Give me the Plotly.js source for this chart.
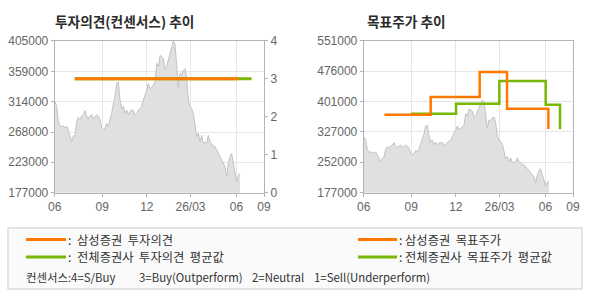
<!DOCTYPE html>
<html>
<head>
<meta charset="utf-8">
<script src="https://cdn.plot.ly/plotly-3.0.1.min.js"></script>
<style>html,body{margin:0;padding:0;background:#fff;}#chart{width:590px;height:300px;}</style>
</head>
<body>
<div id="chart"></div>
<script>
// ---- data ----
// x unit: sample index (roughly every ~2 trading days), axis labels are months
const tickPos = [0, 28.5, 55.3, 81.5, 109.1, 125.6];
const tickLabels = ['06', '09', '12', '26/03', '06', '09'];

// daily close price (sampled), starts at x = 0.2, step 1
const price = [
  314000, 306000, 283000, 278000, 276000, 277000, 274000, 277000, 270000, 262000,
  254000, 262000, 264000, 284000, 290000, 287000, 292000, 294000, 300000, 292000,
  288000, 292000, 294000, 288000, 292000, 294000, 292000, 286000, 274000, 271000,
  274000, 281000, 276000, 286000, 296000, 311000, 321000, 341000, 343000, 316000,
  303000, 306000, 296000, 301000, 294000, 299000, 301000, 301000, 294000, 294000,
  301000, 303000, 306000, 316000, 323000, 331000, 341000, 333000, 335000, 338000,
  343000, 371000, 366000, 383000, 381000, 378000, 361000, 366000, 376000, 386000,
  398000, 405000, 400000, 371000, 335000, 356000, 354000, 361000, 363000, 349000,
  316000, 306000, 303000, 296000, 276000, 261000, 266000, 253000, 263000, 251000,
  253000, 251000, 263000, 253000, 251000, 246000, 246000, 241000, 236000, 233000,
  226000, 221000, 216000, 201000, 221000, 231000, 236000, 221000, 206000, 193000,
  203000, 206000
];

// consensus rating (4=S/Buy, 3=Buy, 2=Neutral, 1=Sell)
const ratingSamsungX = [12, 110.4];
const ratingSamsungY = [3, 3];
const ratingAllX = [12, 118.2];
const ratingAllY = [3, 3];

// target price
const targetSamsungX = [12.4, 40.2, 69.6, 86.0, 110.8, 110.8];
const targetSamsungY = [369000, 412500, 474000, 383700, 383700, 334000];
const targetAllX = [28.4, 55.4, 81.4, 109.2, 117.8, 117.8];
const targetAllY = [371000, 396000, 451800, 393500, 393500, 333000];

const leftYTicks = [177000, 223000, 268000, 314000, 359000, 405000];
const ratingTicks = [0, 1, 2, 3, 4];
const rightYTicks = [177000, 252000, 327000, 401000, 476000, 551000];

const legendNote = ['컨센서스:4=S/Buy', '3=Buy(Outperform)', '2=Neutral', '1=Sell(Underperform)'];

// ---- styles ----
const ORANGE = '#ff7800';
const GREEN = '#78b800';
const W = 590, H = 300;
const px = v => v / W;
const py = v => 1 - v / H;

const tickFont = {family: 'Liberation Sans, Arial, sans-serif', size: 12, color: '#666666'};
const axisCommon = {
  showline: true, linecolor: '#b4b4b4', linewidth: 1, mirror: true,
  ticks: 'outside', ticklen: 3, tickcolor: '#b4b4b4',
  showgrid: true, gridcolor: '#e6e6e6', gridwidth: 1,
  zeroline: false, tickfont: tickFont, fixedrange: true
};

const priceStyle = {
  type: 'scatter', mode: 'lines', x0: 0.2, dx: 1, y: price,
  fill: 'tozeroy', fillcolor: '#e0e0e0',
  line: {color: '#c2c2c2', width: 1}, hoverinfo: 'skip', showlegend: false
};

const traces = [
  Object.assign({}, priceStyle, {xaxis: 'x', yaxis: 'y'}),
  {type: 'scatter', mode: 'lines', x: ratingAllX, y: ratingAllY, xaxis: 'x', yaxis: 'y2',
   line: {color: GREEN, width: 3}, showlegend: false},
  {type: 'scatter', mode: 'lines', x: ratingSamsungX, y: ratingSamsungY, xaxis: 'x', yaxis: 'y2',
   line: {color: ORANGE, width: 3}, showlegend: false},
  Object.assign({}, priceStyle, {xaxis: 'x2', yaxis: 'y3'}),
  {type: 'scatter', mode: 'lines', x: targetAllX, y: targetAllY, xaxis: 'x2', yaxis: 'y3',
   line: {color: GREEN, width: 2.5, shape: 'hv'}, showlegend: false},
  {type: 'scatter', mode: 'lines', x: targetSamsungX, y: targetSamsungY, xaxis: 'x2', yaxis: 'y3',
   line: {color: ORANGE, width: 2.5, shape: 'hv'}, showlegend: false}
];

const yDom = [py(192.7), py(40.7)];
const xTicks = {tickmode: 'array', tickvals: tickPos, ticktext: tickLabels, range: [0, 125.6]};

const layout = {
  width: W, height: H,
  margin: {l: 0, r: 0, t: 0, b: 0},
  paper_bgcolor: '#ffffff', plot_bgcolor: '#ffffff',
  showlegend: false,
  xaxis: Object.assign({}, axisCommon, xTicks, {domain: [px(54.7), px(264)], anchor: 'y'}),
  yaxis: Object.assign({}, axisCommon, {domain: yDom, range: [177000, 405000], tickmode: 'array',
    tickvals: leftYTicks, ticktext: leftYTicks.map(String), anchor: 'x'}),
  yaxis2: Object.assign({}, axisCommon, {overlaying: 'y', side: 'right', range: [0, 4],
    tickmode: 'array', tickvals: ratingTicks, showgrid: false, anchor: 'x', mirror: false}),
  xaxis2: Object.assign({}, axisCommon, xTicks, {domain: [px(363.7), px(573)], anchor: 'y3'}),
  yaxis3: Object.assign({}, axisCommon, {domain: yDom, range: [177000, 551000], tickmode: 'array',
    tickvals: rightYTicks, ticktext: rightYTicks.map(String), anchor: 'x2'}),
  shapes: [
    {type: 'rect', xref: 'paper', yref: 'paper', x0: px(8), x1: px(582), y0: py(289), y1: py(228),
     fillcolor: '#fafafa', line: {color: '#dcdcdc', width: 1.5}, layer: 'below'},
    {type: 'line', xref: 'paper', yref: 'paper', x0: px(26), x1: px(66), y0: py(239.5), y1: py(239.5),
     line: {color: ORANGE, width: 3}},
    {type: 'line', xref: 'paper', yref: 'paper', x0: px(26), x1: px(66), y0: py(257), y1: py(257),
     line: {color: GREEN, width: 3}},
    {type: 'line', xref: 'paper', yref: 'paper', x0: px(358), x1: px(397), y0: py(239.5), y1: py(239.5),
     line: {color: ORANGE, width: 3}},
    {type: 'line', xref: 'paper', yref: 'paper', x0: px(358), x1: px(397), y0: py(257), y1: py(257),
     line: {color: GREEN, width: 3}}
  ],
  annotations: []
};

const titleFont = {family: 'Noto Sans CJK KR, sans-serif', size: 13.7, color: '#2b2b2b', weight: 700};
const legFont = {family: 'Noto Sans CJK KR, sans-serif', size: 12.3, color: '#333333'};
const noteFont = {family: 'Noto Sans CJK KR, sans-serif', size: 11.4, color: '#333333'};
function ann(text, x, y, font) {
  layout.annotations.push({text: text, xref: 'paper', yref: 'paper', x: px(x), y: py(y),
    xanchor: 'left', yanchor: 'middle', showarrow: false, font: font});
}
ann('<b>투자의견(컨센서스) 추이</b>', 53, 20.5, titleFont);
ann('<b>목표주가 추이</b>', 365, 20.5, titleFont);
ann(':', 66, 239.5, legFont);
ann(':', 66, 257, legFont);
ann('삼성증권\u00a0\u00a0투자의견', 75, 239.5, legFont);
ann('전체증권사\u00a0\u00a0투자의견\u00a0\u00a0평균값', 75, 257, legFont);
ann(':', 397, 239.5, legFont);
ann(':', 397, 257, legFont);
ann('삼성증권\u00a0\u00a0목표주가', 403, 239.5, legFont);
ann('전체증권사\u00a0\u00a0목표주가\u00a0\u00a0평균값', 403, 257, legFont);
const noteX = [24, 137, 250, 312];
legendNote.forEach((t, i) => ann(t, noteX[i], 276.5, noteFont));

Plotly.newPlot('chart', traces, layout, {staticPlot: true, displayModeBar: false});
</script>
</body>
</html>
